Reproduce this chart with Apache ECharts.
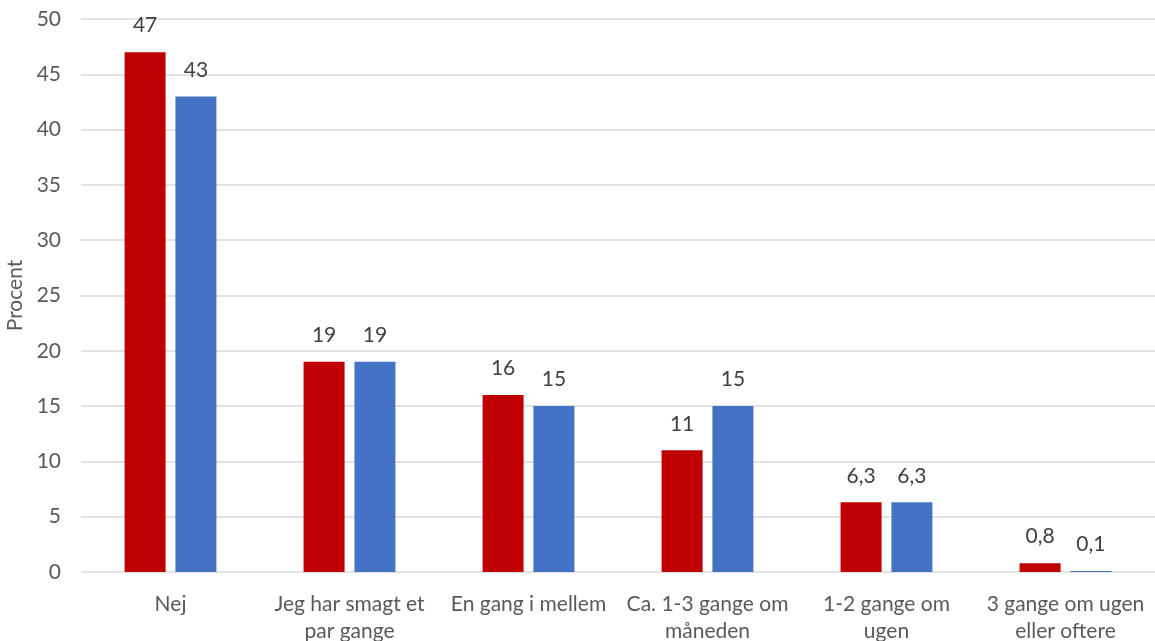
<!DOCTYPE html>
<html><head><meta charset="utf-8">
<script src="https://cdn.jsdelivr.net/npm/echarts@6/dist/echarts.min.js"></script>
<style>html,body{margin:0;padding:0;background:#fff}#c{width:1155px;height:641px}</style>
</head><body><div id="c"></div>
<script>
const categories = ["Nej", "Jeg har smagt et\npar gange", "En gang i mellem", "Ca. 1-3 gange om\nmåneden", "1-2 gange om\nugen", "3 gange om ugen\neller oftere"];
const seriesA = [47, 19, 16, 11, 6.3, 0.8];
const seriesB = [43, 19, 15, 15, 6.3, 0.1];
const yTicks = [0, 5, 10, 15, 20, 25, 30, 35, 40, 45, 50];

const font = "Lato, 'Open Sans', sans-serif";
const fmt = p => String(p.value).replace('.', ',');
const chart = echarts.init(document.getElementById('c'));
chart.setOption({
  animation: false,
  grid: {left: 81, right: 0, top: 19, bottom: 69, containLabel: false, outerBoundsMode: 'none'},
  xAxis: {
    type: 'category', data: categories,
    axisLine: {show: false}, axisTick: {show: false},
    axisLabel: {color: '#595959', fontSize: 21, fontFamily: font, margin: 19, lineHeight: 27, interval: 0}
  },
  yAxis: {
    type: 'value', min: yTicks[0], max: yTicks[yTicks.length - 1], interval: 5,
    name: 'Procent', nameLocation: 'middle', nameGap: 48, nameRotate: 90,
    nameTextStyle: {color: '#595959', fontSize: 21, fontFamily: font},
    axisLine: {show: false}, axisTick: {show: false},
    axisLabel: {color: '#595959', fontSize: 21, fontFamily: font, margin: 20},
    splitLine: {lineStyle: {color: '#d9d9d9', width: 1.5}}
  },
  series: [
    {type: 'bar', data: seriesA, barWidth: 41, barGap: '24%', itemStyle: {color: '#C00000'},
     label: {show: true, position: 'top', distance: 16, color: '#404040', fontSize: 21, fontFamily: font, formatter: fmt}},
    {type: 'bar', data: seriesB, barWidth: 41, itemStyle: {color: '#4472C4'},
     label: {show: true, position: 'top', distance: 16, color: '#404040', fontSize: 21, fontFamily: font, formatter: fmt}}
  ]
});
</script></body></html>
